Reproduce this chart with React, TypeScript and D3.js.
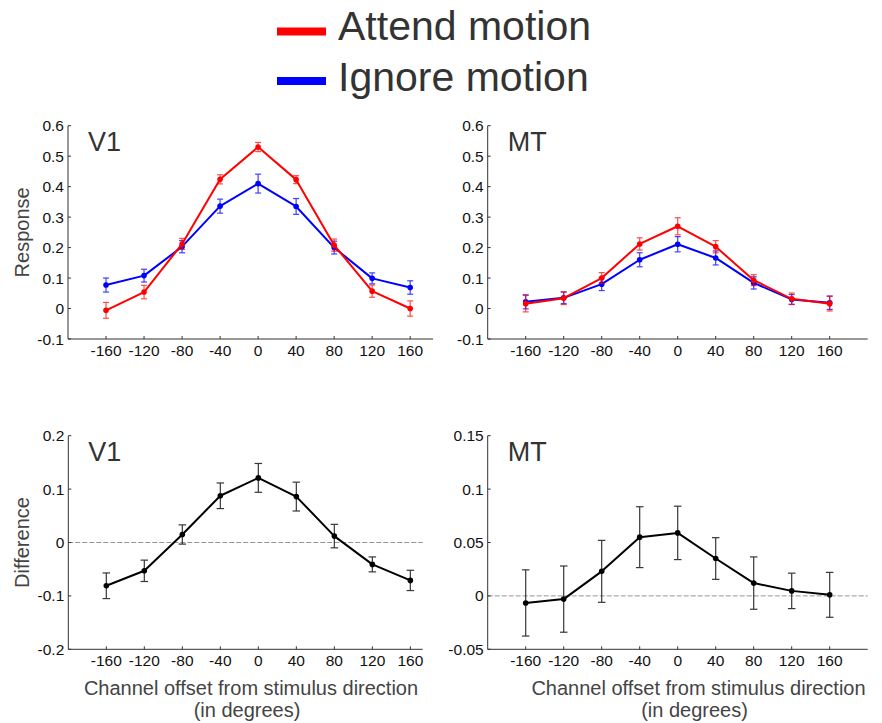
import React from "react";
import * as d3 from "d3";

const offsets = [-160, -120, -80, -40, 0, 40, 80, 120, 160];

const v1Attend = [-0.006, 0.054, 0.212, 0.424, 0.53, 0.423, 0.208, 0.057, 0.0];
const v1AttendErr = [0.026, 0.022, 0.018, 0.015, 0.015, 0.013, 0.02, 0.02, 0.025];
const v1Ignore = [0.077, 0.108, 0.203, 0.336, 0.41, 0.335, 0.2, 0.099, 0.069];
const v1IgnoreErr = [0.023, 0.021, 0.02, 0.023, 0.031, 0.026, 0.021, 0.018, 0.022];

const mtAttend = [0.016, 0.034, 0.1, 0.212, 0.27, 0.203, 0.093, 0.032, 0.016];
const mtAttendErr = [0.027, 0.021, 0.018, 0.02, 0.028, 0.02, 0.018, 0.019, 0.024];
const mtIgnore = [0.022, 0.035, 0.08, 0.16, 0.211, 0.166, 0.084, 0.03, 0.019];
const mtIgnoreErr = [0.023, 0.019, 0.021, 0.023, 0.025, 0.023, 0.02, 0.016, 0.022];

const v1Diff = [-0.081, -0.053, 0.015, 0.0875, 0.121, 0.086, 0.012, -0.041, -0.071];
const v1DiffErr = [0.024, 0.02, 0.018, 0.024, 0.027, 0.027, 0.022, 0.014, 0.019];
const mtDiff = [-0.0066, -0.003, 0.023, 0.055, 0.059, 0.035, 0.012, 0.0047, 0.001];
const mtDiffErr = [0.031, 0.031, 0.029, 0.0285, 0.025, 0.0195, 0.0245, 0.0166, 0.021];

const responseTicks = [-0.1, 0, 0.1, 0.2, 0.3, 0.4, 0.5, 0.6];
const v1DiffTicks = [-0.2, -0.1, 0, 0.1, 0.2];
const mtDiffTicks = [-0.05, 0, 0.05, 0.1, 0.15];

const legendLabels = ["Attend motion", "Ignore motion"];
const RED = "#ff0000";
const BLUE = "#0000ff";
const FONT = "'Liberation Sans', Arial, Helvetica, sans-serif";

type Series = { values: number[]; errs: number[]; color: string; errColor: string; errOpacity: number };

type PanelProps = {
  title: string;
  xDomain: [number, number];
  xRange: [number, number];
  yDomain: [number, number];
  yRange: [number, number];
  yTicks: number[];
  series: Series[];
  zeroLine?: boolean;
  yLabel?: string;
  xLabel?: boolean;
  xLabelCenter?: number;
  capW: number;
};

function fmt(v: number) {
  const r = Math.round(v * 1000) / 1000;
  if (r === 0) return "0";
  return String(r);
}

function Panel(p: PanelProps) {
  const x = d3.scaleLinear().domain(p.xDomain).range(p.xRange);
  const y = d3.scaleLinear().domain(p.yDomain).range(p.yRange);
  const x0 = p.xRange[0];
  const x1 = p.xRange[1];
  const yb = p.yRange[0];
  const yt = p.yRange[1];
  const line = d3
    .line<number>()
    .x((_, i) => x(offsets[i]))
    .y((d) => y(d));
  return (
    <g>
      {p.zeroLine && (
        <line x1={x0} x2={x1} y1={y(0)} y2={y(0)} stroke="#888" strokeWidth={0.9} strokeDasharray="5 2" />
      )}
      <line x1={x0} x2={x0} y1={yb} y2={yt} stroke="#333" strokeWidth={1} />
      <line x1={x0} x2={x1} y1={yb} y2={yb} stroke="#333" strokeWidth={1} />
      {p.yTicks.map((t) => (
        <g key={"yt" + t}>
          <line x1={x0} x2={x0 + 3} y1={y(t)} y2={y(t)} stroke="#333" strokeWidth={1} />
          <text
            x={x0 - 4}
            y={y(t)}
            dy="0.36em"
            textAnchor="end"
            fontSize={15.5}
            fontFamily={FONT}
            fill="#111"
          >
            {fmt(t)}
          </text>
        </g>
      ))}
      {offsets.map((o) => (
        <g key={"xt" + o}>
          <line x1={x(o)} x2={x(o)} y1={yb} y2={yb - 3} stroke="#333" strokeWidth={1} />
          <text
            x={x(o)}
            y={yb + 17}
            textAnchor="middle"
            fontSize={15.5}
            fontFamily={FONT}
            fill="#111"
          >
            {o}
          </text>
        </g>
      ))}
      <text x={x0 + 20} y={yt + 25} fontSize={27} fontFamily={FONT} fill="#333">
        {p.title}
      </text>
      {p.series.map((s, si) => (
        <g key={"s" + si}>
          <g opacity={s.errOpacity}>
            {s.values.map((v, i) => {
              const cx = x(offsets[i]);
              const lo = y(v - s.errs[i]);
              const hi = y(v + s.errs[i]);
              return (
                <g key={i} stroke={s.errColor} strokeWidth={1.2}>
                  <line x1={cx} x2={cx} y1={lo} y2={hi} />
                  <line x1={cx - p.capW / 2} x2={cx + p.capW / 2} y1={lo} y2={lo} />
                  <line x1={cx - p.capW / 2} x2={cx + p.capW / 2} y1={hi} y2={hi} />
                </g>
              );
            })}
          </g>
          <path d={line(s.values) || ""} fill="none" stroke={s.color} strokeWidth={2} strokeLinejoin="round" />
          {s.values.map((v, i) => (
            <circle key={i} cx={x(offsets[i])} cy={y(v)} r={2.8} fill={s.color} />
          ))}
        </g>
      ))}
      {p.yLabel && (
        <text
          transform={`translate(29,${(yb + yt) / 2}) rotate(-90)`}
          textAnchor="middle"
          fontSize={20}
          fontFamily={FONT}
          fill="#444"
        >
          {p.yLabel}
        </text>
      )}
      {p.xLabel && (
        <g>
          <text x={p.xLabelCenter} y={yb + 46} textAnchor="middle" fontSize={20} fontFamily={FONT} fill="#444">
            Channel offset from stimulus direction
          </text>
          <text x={(p.xLabelCenter || 0) - 4} y={yb + 68} textAnchor="middle" fontSize={20} fontFamily={FONT} fill="#444">
            (in degrees)
          </text>
        </g>
      )}
    </g>
  );
}

export default function App() {
  const legendColors = [RED, BLUE];
  return (
    <svg
      width={882}
      height={723}
      style={{ position: "absolute", left: 0, top: 0, background: "#fff" }}
    >
      <rect width={882} height={723} fill="#fff" />
      {legendLabels.map((l, i) => (
        <g key={l}>
          <line x1={277} x2={326} y1={31.5 + i * 49.5} y2={31.5 + i * 49.5} stroke={legendColors[i]} strokeWidth={8} />
          <text x={338} y={39.5 + i * 51.5} fontSize={41} fontFamily={FONT} fill="#333">
            {l}
          </text>
        </g>
      ))}
      <Panel
        title="V1"
        xDomain={[-200, 184]}
        xRange={[68, 433]}
        yDomain={[-0.1, 0.6]}
        yRange={[339, 125.7]}
        yTicks={responseTicks}
        series={[
          { values: v1Ignore, errs: v1IgnoreErr, color: BLUE, errColor: BLUE, errOpacity: 0.75 },
          { values: v1Attend, errs: v1AttendErr, color: RED, errColor: RED, errOpacity: 0.7 },
        ]}
        yLabel="Response"
        capW={6}
      />
      <Panel
        title="MT"
        xDomain={[-200, 200]}
        xRange={[487.7, 867.7]}
        yDomain={[-0.1, 0.6]}
        yRange={[339, 125.7]}
        yTicks={responseTicks}
        series={[
          { values: mtIgnore, errs: mtIgnoreErr, color: BLUE, errColor: BLUE, errOpacity: 0.75 },
          { values: mtAttend, errs: mtAttendErr, color: RED, errColor: RED, errOpacity: 0.7 },
        ]}
        capW={6}
      />
      <Panel
        title="V1"
        xDomain={[-200, 173]}
        xRange={[68.3, 422.7]}
        yDomain={[-0.2, 0.2]}
        yRange={[649.3, 435.7]}
        yTicks={v1DiffTicks}
        series={[{ values: v1Diff, errs: v1DiffErr, color: "#000", errColor: "#222", errOpacity: 0.9 }]}
        zeroLine
        yLabel="Difference"
        xLabel
        xLabelCenter={251}
        capW={7.5}
      />
      <Panel
        title="MT"
        xDomain={[-200, 200]}
        xRange={[487.7, 867.7]}
        yDomain={[-0.05, 0.15]}
        yRange={[649.3, 435.7]}
        yTicks={mtDiffTicks}
        series={[{ values: mtDiff, errs: mtDiffErr, color: "#000", errColor: "#222", errOpacity: 0.9 }]}
        zeroLine
        xLabel
        xLabelCenter={698.5}
        capW={7.5}
      />
    </svg>
  );
}
